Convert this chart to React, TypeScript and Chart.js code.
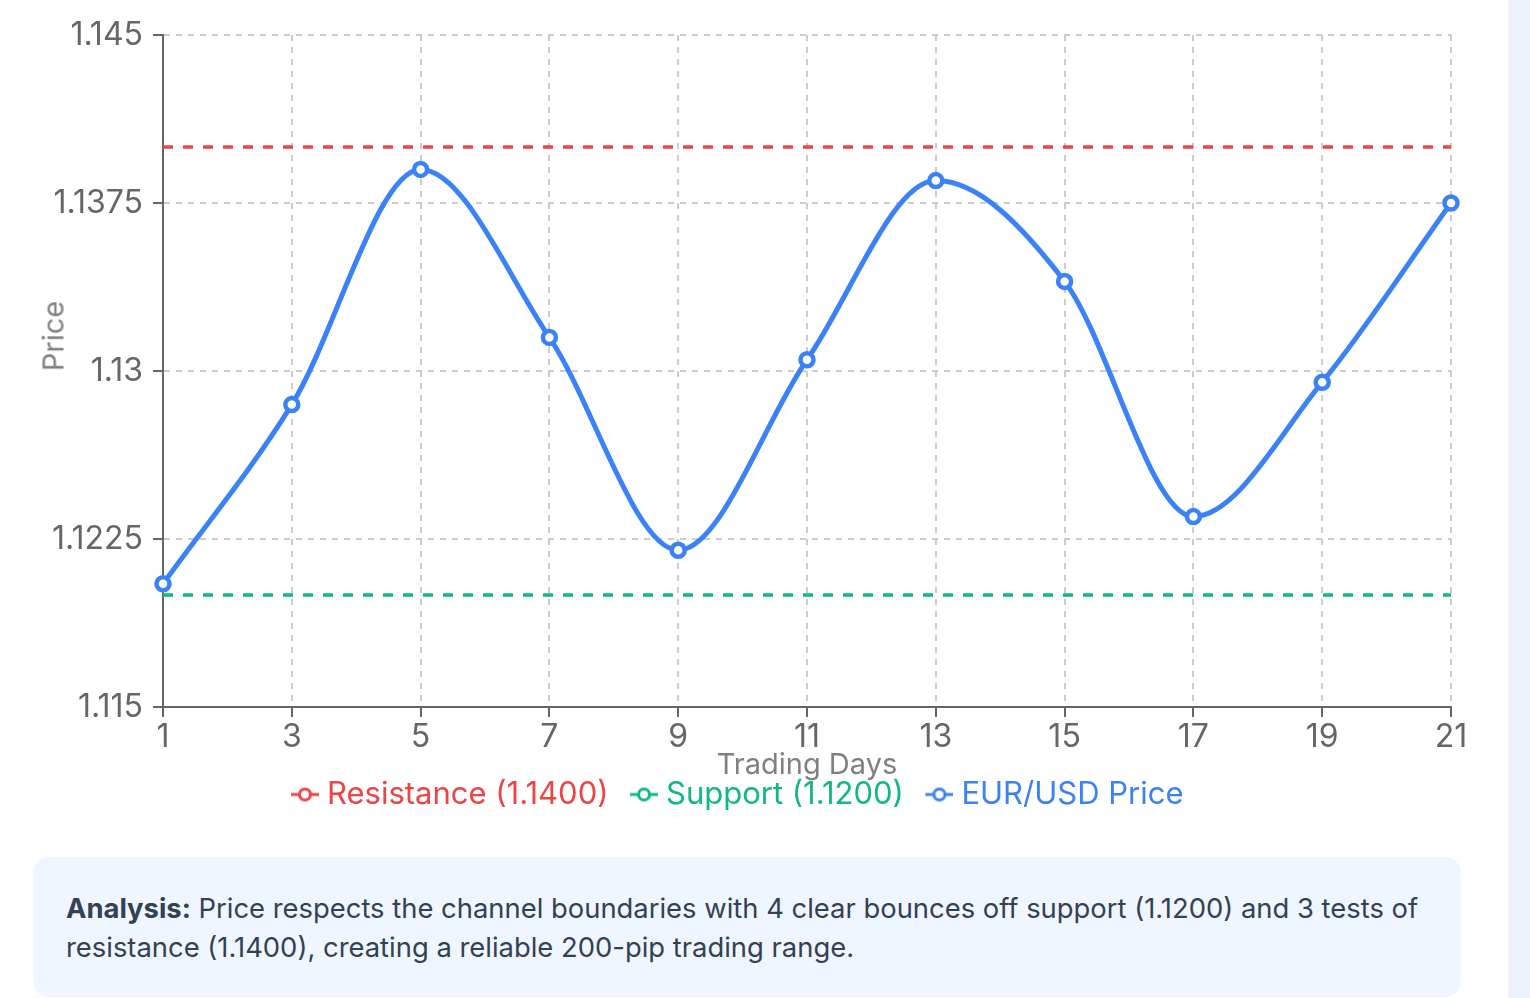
import React, { useEffect, useRef } from "react";
import Chart from "chart.js/auto";

const days = ["1", "3", "5", "7", "9", "11", "13", "15", "17", "19", "21"];
const eurUsdPrice = [1.1205, 1.1285, 1.139, 1.1315, 1.122, 1.1305, 1.1385, 1.134, 1.1235, 1.1295, 1.1375];
const resistanceLevel = 1.14;
const supportLevel = 1.12;
const priceTicks = [1.115, 1.1225, 1.13, 1.1375, 1.145];

const RED = "#ef4444";
const GREEN = "#10b981";
const BLUE = "#3b82f6";
const FONT = "Inter, 'Noto Sans', sans-serif";

// little "-o-" legend marker, drawn in the right part of the canvas so it sits close to the text
const makeIcon = (color: string) => {
  const c = document.createElement("canvas");
  c.width = 45;
  c.height = 18;
  const ctx = c.getContext("2d");
  if (ctx) {
    ctx.strokeStyle = color;
    ctx.lineWidth = 3;
    ctx.beginPath();
    ctx.moveTo(17, 9);
    ctx.lineTo(45, 9);
    ctx.stroke();
    ctx.fillStyle = "#fff";
    ctx.beginPath();
    ctx.arc(31, 9, 5.5, 0, Math.PI * 2);
    ctx.fill();
    ctx.stroke();
  }
  return c;
};

const ChannelChart = () => {
  const chartRef = useRef<HTMLCanvasElement>(null);
  const chartInstanceRef = useRef<Chart | null>(null);

  useEffect(() => {
    if (!chartRef.current) return;
    const ctx = chartRef.current.getContext("2d");
    if (!ctx) return;

    if (chartInstanceRef.current) {
      chartInstanceRef.current.destroy();
    }

    const colors = [RED, GREEN, BLUE];
    const icons = colors.map(makeIcon);

    chartInstanceRef.current = new Chart(ctx, {
      type: "line",
      data: {
        labels: days,
        datasets: [
          {
            label: "Resistance (1.1400)",
            data: days.map(() => resistanceLevel),
            borderColor: RED,
            backgroundColor: RED,
            borderWidth: 3.5,
            borderDash: [10, 10],
            pointRadius: 0,
            fill: false,
          },
          {
            label: "Support (1.1200)",
            data: days.map(() => supportLevel),
            borderColor: GREEN,
            backgroundColor: GREEN,
            borderWidth: 3.5,
            borderDash: [10, 10],
            pointRadius: 0,
            fill: false,
          },
          {
            label: "EUR/USD Price",
            data: eurUsdPrice,
            borderColor: BLUE,
            backgroundColor: "#ffffff",
            borderWidth: 5,
            cubicInterpolationMode: "monotone",
            pointRadius: 6.5,
            pointBorderWidth: 4.5,
            pointBackgroundColor: "#ffffff",
            pointBorderColor: BLUE,
            fill: false,
          },
        ],
      },
      options: {
        responsive: true,
        maintainAspectRatio: false,
        animation: false,
        layout: { padding: { top: 35, right: 57, left: 14, bottom: 20 } },
        plugins: {
          tooltip: { enabled: false },
          legend: {
            display: true,
            position: "bottom",
            labels: {
              usePointStyle: true,
              pointStyleWidth: 30,
              padding: 12,
              font: { family: FONT, size: 31 },
              generateLabels: (chart) => {
                const items = Chart.defaults.plugins.legend.labels.generateLabels(chart);
                items.forEach((item, i) => {
                  item.pointStyle = icons[i];
                  item.fontColor = colors[i];
                });
                return items;
              },
            },
          },
        },
        scales: {
          x: {
            offset: false,
            afterFit: (scale) => {
              scale.height = 60;
            },
            title: {
              display: true,
              text: "Trading Days",
              color: "#808080",
              font: { family: FONT, size: 29 },
              padding: { top: 0, bottom: -16 },
            },
            ticks: {
              color: "#666",
              font: { family: FONT, size: 32 },
              padding: 1,
              maxRotation: 0,
              autoSkip: false,
            },
            grid: {
              color: "#cccccc",
              lineWidth: 2,
              tickColor: "#666",
              tickLength: 10,
              tickWidth: 2,
              tickBorderDash: [],
            },
            border: { display: true, color: "#666", width: 2, dash: [6, 6] },
          },
          y: {
            min: 1.115,
            max: 1.145,
            afterFit: (scale) => {
              scale.width = 149;
            },
            afterBuildTicks: (scale) => {
              scale.ticks = priceTicks.map((v) => ({ value: v }));
            },
            // the "Price" label sits above the axis centre, so it is placed as html below
            title: { display: false },
            ticks: {
              color: "#666",
              font: { family: FONT, size: 32 },
              padding: 10,
              callback: (v) => String(Number(Number(v).toFixed(4))),
            },
            grid: {
              color: "#cccccc",
              lineWidth: 2,
              tickColor: "#666",
              tickLength: 10,
              tickWidth: 2,
              tickBorderDash: [],
            },
            border: { display: true, color: "#666", width: 2, dash: [6, 6] },
          },
        },
      },
    });

    return () => {
      if (chartInstanceRef.current) {
        chartInstanceRef.current.destroy();
        chartInstanceRef.current = null;
      }
    };
  }, []);

  return (
    <div style={{ position: "absolute", left: 0, top: 0, width: "1508px", height: "840px" }}>
      <canvas ref={chartRef} />
      <div
        style={{
          position: "absolute",
          left: "53px",
          top: "336px",
          transform: "translate(-50%, -50%) rotate(-90deg)",
          whiteSpace: "nowrap",
          color: "#808080",
          fontFamily: FONT,
          fontSize: "29px",
          lineHeight: 1,
        }}
      >
        Price
      </div>
    </div>
  );
};

const App = () => {
  return (
    <div style={{ position: "fixed", inset: 0, background: "#edf1f9", overflow: "hidden", fontFamily: FONT }}>
      <div style={{ position: "absolute", left: 0, top: 0, width: "1508px", height: "998px", background: "#ffffff" }}>
        <ChannelChart />
        <div
          style={{
            position: "absolute",
            left: "33px",
            top: "857px",
            width: "1428px",
            height: "140px",
            boxSizing: "border-box",
            padding: "32px 33px",
            background: "#eff6ff",
            borderRadius: "16px",
            color: "#334155",
            fontSize: "27.4px",
            lineHeight: "39px",
          }}
        >
          <strong>Analysis:</strong> Price respects the channel boundaries with 4 clear bounces off support (1.1200)
          and 3 tests of resistance (1.1400), creating a reliable 200-pip trading range.
        </div>
      </div>
    </div>
  );
};

export default App;
